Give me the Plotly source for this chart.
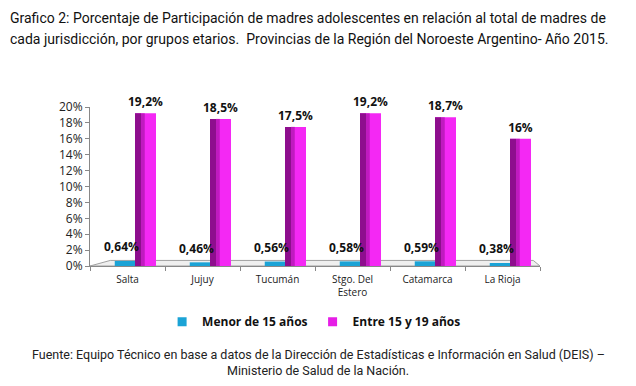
import plotly.graph_objects as go

categorias = ["Salta", "Jujuy", "Tucumán", "Stgo. Del<br>Estero", "Catamarca", "La Rioja"]
menor_15 = [0.64, 0.46, 0.56, 0.58, 0.59, 0.38]
entre_15_19 = [19.2, 18.5, 17.5, 19.2, 18.7, 16]
y_ticks = [0, 2, 4, 6, 8, 10, 12, 14, 16, 18, 20]
y_tick_labels = [f"{t}%" for t in y_ticks]

def fmt(v):
    return f"{v:g}".replace(".", ",") + "%"

fig = go.Figure()

fig.add_trace(go.Bar(
    x=categorias, y=menor_15, name="Menor de 15 años", showlegend=False,
    marker=dict(color="#1BA3D6", line=dict(width=0)),
    offset=-0.17, width=0.27, hoverinfo="skip",
))
fig.add_trace(go.Bar(
    x=categorias, y=entre_15_19, name="Entre 15 y 19 años", showlegend=False,
    marker=dict(color="#F428F4", line=dict(width=0)),
    offset=0.1, width=0.28,
    text=["<b>" + fmt(v) + "</b>" for v in entre_15_19], textposition="outside",
    constraintext="none",
    textfont=dict(family="Open Sans", size=12, color="#111"),
    cliponaxis=False, hoverinfo="skip",
))
# cylinder shading (same data, darker left side)
fig.add_trace(go.Bar(
    x=categorias, y=entre_15_19, showlegend=False,
    marker=dict(color="#8E0E8E", line=dict(width=0)),
    offset=0.1, width=0.08, hoverinfo="skip",
))
fig.add_trace(go.Bar(
    x=categorias, y=entre_15_19, showlegend=False,
    marker=dict(color="#C01AC0", line=dict(width=0)),
    offset=0.18, width=0.05, hoverinfo="skip",
))
# legend entries
fig.add_trace(go.Scatter(x=[None], y=[None], mode="markers", name="<b>Menor de 15 años</b>",
                         marker=dict(symbol="square", size=9, color="#1BA3D6")))
fig.add_trace(go.Scatter(x=[None], y=[None], mode="markers", name="<b>Entre 15 y 19 años</b>",
                         marker=dict(symbol="square", size=9, color="#E61EE6")))

for c, v in zip(categorias, menor_15):
    fig.add_annotation(x=c, y=v, xref="x", yref="y", text="<b>" + fmt(v) + "</b>",
                       showarrow=False, yshift=14, xshift=-6,
                       font=dict(family="Open Sans", size=12, color="#111"))

# floor (decoration)
fig.add_shape(type="path", xref="paper", yref="paper",
              path="M 0 0 L 0.045 0.035 L 0.985 0.035 L 1.0 0 Z",
              fillcolor="#EFEFEF", line=dict(color="#A0A0A0", width=1), layer="below")

fig.add_annotation(xref="paper", yref="paper", x=-0.182, y=1.56, xanchor="left", yanchor="middle",
                   text="Grafico 2: Porcentaje de Participación de madres adolescentes en relación al total de madres de",
                   showarrow=False, font=dict(family="Roboto", size=14, color="#111"))
fig.add_annotation(xref="paper", yref="paper", x=-0.182, y=1.43, xanchor="left", yanchor="middle",
                   text="cada jurisdicción, por grupos etarios.  Provincias de la Región del Noroeste Argentino- Año 2015.",
                   showarrow=False, font=dict(family="Roboto", size=14, color="#111"))
fig.add_annotation(xref="paper", yref="paper", x=0.507, y=-0.555, xanchor="center", yanchor="middle",
                   text="Fuente: Equipo Técnico en base a datos de la Dirección de Estadísticas e Información en Salud (DEIS) –",
                   showarrow=False, font=dict(family="Roboto", size=12.5, color="#222"))
fig.add_annotation(xref="paper", yref="paper", x=0.507, y=-0.655, xanchor="center", yanchor="middle",
                   text="Ministerio de Salud de la Nación.",
                   showarrow=False, font=dict(family="Roboto", size=12.5, color="#222"))

fig.update_layout(
    width=620, height=370,
    margin=dict(l=82, r=88, t=99, b=112, autoexpand=False),
    paper_bgcolor="white", plot_bgcolor="white",
    barmode="overlay", showlegend=True,
    legend=dict(orientation="h", x=0.498, y=-0.35, xanchor="center", yanchor="middle",
                font=dict(family="Open Sans", size=12, color="#111"),
                itemwidth=30, traceorder="normal"),
    font=dict(family="Open Sans", color="#222"),
)
fig.update_yaxes(range=[0, 20], tickvals=y_ticks, ticktext=y_tick_labels, showgrid=False,
                 zeroline=False,
                 showline=True, linecolor="#888", ticks="outside", ticklen=4, tickcolor="#888",
                 tickfont=dict(family="Open Sans", size=12, color="#222"))
fig.update_xaxes(showline=True, linecolor="#888", ticks="outside", tickson="boundaries",
                 ticklen=4, tickcolor="#888", ticklabelstandoff=4,
                 tickfont=dict(family="Open Sans", size=10, color="#222"))

fig.write_html("out.html")
